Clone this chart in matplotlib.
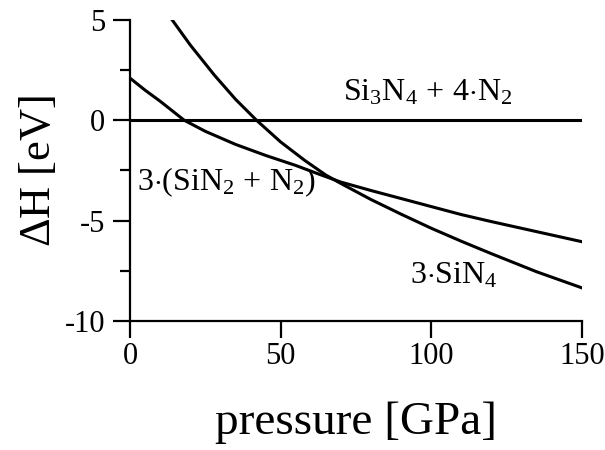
import matplotlib
matplotlib.use("Agg")
import matplotlib.pyplot as plt
from matplotlib.ticker import MultipleLocator

plt.rcParams['font.family'] = 'Liberation Serif'
plt.rcParams['mathtext.fontset'] = 'custom'
plt.rcParams['mathtext.rm'] = 'Liberation Serif'
plt.rcParams['mathtext.it'] = 'Liberation Serif:italic'

# 3(SiN2 + N2) curve
p_sin2 = [0, 5, 10, 18, 25, 35, 45, 55, 63, 70, 80, 90, 100, 110, 120, 135, 150]
dh_sin2 = [2.1, 1.5, 0.95, 0.0, -0.55, -1.2, -1.75, -2.25, -2.7, -3.08, -3.5, -3.9,
           -4.3, -4.7, -5.05, -5.55, -6.05]

# 3 SiN4 curve
p_sin4 = [14, 20, 28, 35, 42, 50, 58, 65, 70, 80, 90, 100, 110, 120, 135, 150]
dh_sin4 = [5.0, 3.75, 2.25, 1.05, 0.0, -1.08, -2.0, -2.73, -3.15, -3.95, -4.68,
           -5.38, -6.03, -6.65, -7.55, -8.35]

# Si3N4 + 4 N2 reference
p_ref = [0, 150]
dh_ref = [0, 0]

fig = plt.figure(figsize=(6.05, 4.5), dpi=100)
ax = fig.add_axes([0.2149, 0.2867, 0.747, 0.669])

lw = 2.2
ax.plot(p_ref, dh_ref, color='black', lw=lw, solid_capstyle='butt')
ax.plot(p_sin2, dh_sin2, color='black', lw=lw)
ax.plot(p_sin4, dh_sin4, color='black', lw=lw)

ax.set_xlim(0, 150)
ax.set_ylim(-10, 5)
ax.xaxis.set_major_locator(MultipleLocator(50))
ax.yaxis.set_minor_locator(MultipleLocator(2.5))
ax.set_yticks([-10, -5, 0, 5])
ax.set_yticklabels(['-10', '-5', '0', '5'])

for s in ['top', 'right']:
    ax.spines[s].set_visible(False)
for s in ['left', 'bottom']:
    ax.spines[s].set_linewidth(1.6)

ax.tick_params(axis='both', which='major', direction='out', length=12, width=1.6,
               labelsize=22)
ax.tick_params(axis='y', which='major', pad=6)
ax.tick_params(axis='x', which='major', pad=3)
ax.tick_params(axis='y', which='minor', direction='out', length=7, width=1.6)

ax.set_xlabel('pressure [GPa]', fontsize=34, labelpad=22)
ax.set_ylabel(r'$\Delta$H [eV]', fontsize=32, labelpad=4)

ax.text(70.8, 1.0, r'$\mathrm{Si_3N_4\,+\,4{\cdot}N_2}$', fontsize=23, ha='left', va='baseline')
ax.text(2.3, -3.5, r'$\mathrm{3{\cdot}(SiN_2\,+\,N_2)}$', fontsize=23, ha='left', va='baseline')
ax.text(93, -8.15, r'$\mathrm{3{\cdot}SiN_4}$', fontsize=23, ha='left', va='baseline')

fig.savefig('out.png', dpi=100)
